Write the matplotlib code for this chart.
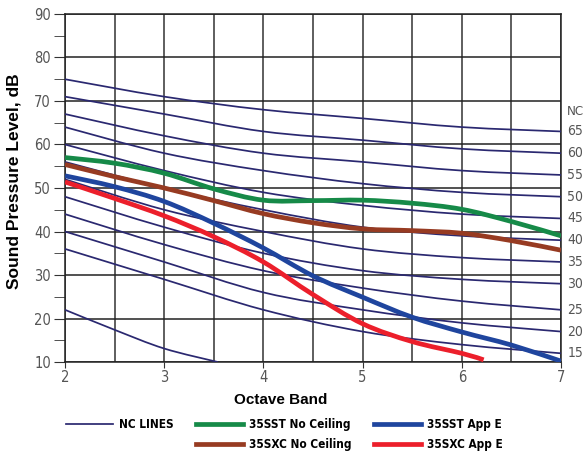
import numpy as np
import matplotlib
matplotlib.use("Agg")
import matplotlib.pyplot as plt
from matplotlib.path import Path
from matplotlib.patches import PathPatch
from matplotlib.lines import Line2D

# ── Data ───────────────────────────────────────────────────────────────────────
bands = [2, 3, 4, 5, 6, 7]
nc_levels = [65, 60, 55, 50, 45, 40, 35, 30, 25, 20, 15]
nc_curves = [
    [75, 71, 68, 66, 64, 63],
    [71, 67, 63, 61, 59, 58],
    [67, 62, 58, 56, 54, 53],
    [64, 58, 54, 51, 49, 48],
    [60, 54, 49, 46, 44, 43],
    [56, 50, 45, 41, 39, 38],
    [52, 45, 40, 36, 34, 33],
    [48, 41, 35, 31, 29, 28],
    [44, 37, 31, 27, 24, 22],
    [40, 33, 26, 22, 19, 17],
    [36, 29, 22, 17, 14, 12],
]
extra_x = [2, 2.5, 3, 3.54]
extra_y = [22, 17.4, 13.1, 10]

half_bands = [2, 2.5, 3, 3.5, 4, 4.5, 5, 5.5, 6, 6.5, 7]
sst_no_ceiling = [57, 55.7, 53.4, 49.8, 47.2, 47.1, 47.2, 46.5, 45.1, 42.3, 39.0]
sxc_no_ceiling = [55.4, 52.6, 50.0, 47.1, 44.1, 42.0, 40.6, 40.2, 39.6, 37.9, 35.7]
sst_app_e = [52.8, 50.3, 46.9, 41.9, 36.2, 29.8, 24.9, 20.3, 16.9, 13.9, 10.2]
sxc_x = [2, 2.5, 3, 3.5, 4, 4.5, 5, 5.5, 6, 6.22]
sxc_app_e = [51.4, 47.6, 43.6, 38.8, 33.0, 25.5, 18.8, 14.7, 12.0, 10.5]

NC_COLOR = "#2a2870"
GREEN = "#168a48"
BROWN = "#973b22"
BLUE = "#1f459e"
RED = "#ec1f2b"
GRAY = "#555555"
NARROW = dict(family="DejaVu Sans", stretch="condensed")


def smooth(ax, x, y, color, lw, z):
    # draw a smooth curve through the read points (Catmull-Rom as bezier)
    pts = np.column_stack([x, y]).astype(float)
    n = len(pts)
    verts = [pts[0]]
    codes = [Path.MOVETO]
    for i in range(n - 1):
        p0 = pts[i - 1] if i > 0 else pts[i]
        p1, p2 = pts[i], pts[i + 1]
        p3 = pts[i + 2] if i + 2 < n else pts[i + 1]
        verts += [p1 + (p2 - p0) / 6, p2 - (p3 - p1) / 6, p2]
        codes += [Path.CURVE4] * 3
    ax.add_patch(PathPatch(Path(verts, codes), facecolor="none", edgecolor=color,
                           lw=lw, capstyle="butt", zorder=z))


fig = plt.figure(figsize=(5.83, 4.51), dpi=100)
ax = fig.add_axes([0.1115, 0.1973, 0.8508, 0.7717])

ax.set_xlim(2, 7)
ax.set_ylim(10, 90)
ax.set_xticks(bands)
ax.set_xticks(np.arange(2, 7.01, 0.5), minor=True)
ax.set_yticks(np.arange(10, 91, 10))
ax.set_yticks(np.arange(15, 90, 10), minor=True)
ax.grid(True, which="major", axis="y", color="#222222", lw=1.1, zorder=0)
ax.grid(True, which="both", axis="x", color="#333333", lw=1.1, zorder=0)
ax.tick_params(axis="x", which="minor", length=0)
ax.tick_params(axis="x", which="major", length=4, color="#333333", labelcolor=GRAY,
               labelsize=10.5, pad=2)
ax.tick_params(axis="y", which="both", length=8, color="#333333", labelcolor=GRAY,
               labelsize=10.5, pad=2)
for lbl in ax.get_xticklabels() + ax.get_yticklabels():
    lbl.set_family(NARROW["family"])
    lbl.set_stretch(NARROW["stretch"])
for s in ax.spines.values():
    s.set_color("#222222")
    s.set_linewidth(1.1)

for vals in nc_curves:
    smooth(ax, bands, vals, NC_COLOR, 1.25, 3)
smooth(ax, extra_x, extra_y, NC_COLOR, 1.25, 3)

smooth(ax, half_bands, sst_no_ceiling, GREEN, 3.4, 4)
smooth(ax, half_bands, sxc_no_ceiling, BROWN, 3.4, 4)
smooth(ax, half_bands, sst_app_e, BLUE, 3.4, 4)
smooth(ax, sxc_x, sxc_app_e, RED, 3.4, 4)

# NC labels on the right
ax.text(7.06, 67.6, "NC", color=GRAY, fontsize=9.5, va="center", ha="left", **NARROW)
for lvl, vals in zip(nc_levels, nc_curves):
    ax.text(7.065, vals[-1], str(lvl), color=GRAY, fontsize=10, va="center", ha="left",
            **NARROW)

ax.set_ylabel("Sound Pressure Level, dB", fontsize=12.5, fontweight="bold",
              family="Liberation Sans")
ax.yaxis.set_label_coords(-0.088, 0.52)
ax.set_xlabel("Octave Band", fontsize=11, fontweight="bold", family="Liberation Sans")
ax.xaxis.set_label_coords(0.435, -0.088)

handles = [
    Line2D([], [], color=NC_COLOR, lw=1.25),
    Line2D([], [], color="none", lw=0),
    Line2D([], [], color=GREEN, lw=3.4),
    Line2D([], [], color=BROWN, lw=3.4),
    Line2D([], [], color=BLUE, lw=3.4),
    Line2D([], [], color=RED, lw=3.4),
]
labels = ["NC LINES", "", "35SST No Ceiling", "35SXC No Ceiling",
          "35SST App E", "35SXC App E"]
fig.legend(handles, labels, ncol=3, loc="center", bbox_to_anchor=(0.488, 0.037),
           frameon=False, handlelength=4.0, handletextpad=0.5, columnspacing=1.9,
           labelspacing=0.6, borderpad=0.2,
           prop={"family": "DejaVu Sans", "stretch": "condensed", "weight": "bold",
                 "size": 8.5})

fig.savefig("out.png", dpi=100)
